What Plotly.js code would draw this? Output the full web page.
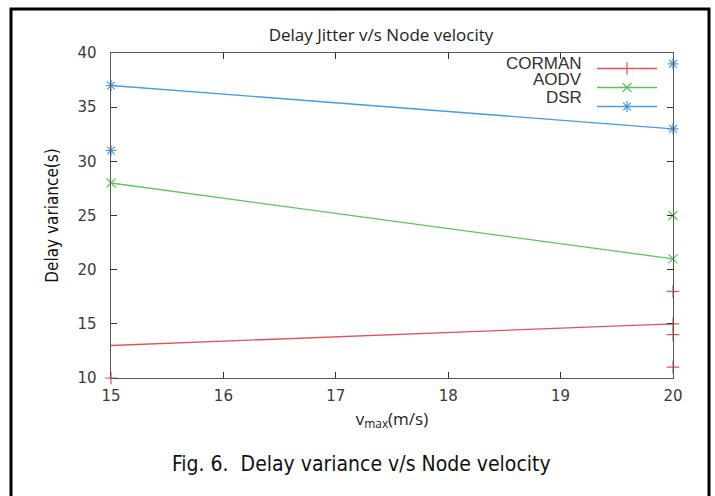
<!DOCTYPE html>
<html>
<head>
<meta charset="utf-8">
<script src="https://cdn.plot.ly/plotly-3.0.1.min.js"></script>
<style>html,body{margin:0;padding:0;background:#fff;}#chart{width:715px;height:496px;}</style>
</head>
<body>
<div id="chart"></div>
<script>
// ---- data ----
const seriesNames = ['CORMAN', 'AODV', 'DSR'];
const lineX = [15, 20];
const cormanLine = [13, 15];
const aodvLine = [28, 21];
const dsrLine = [37, 33];
const cormanExtraX = [15, 20, 20, 20];
const cormanExtraY = [10, 18, 14, 11];
const aodvExtraX = [20];
const aodvExtraY = [25];
const dsrExtraX = [15, 20];
const dsrExtraY = [31, 39];
const xTicks = [15, 16, 17, 18, 19, 20];
const yTicks = [10, 15, 20, 25, 30, 35, 40];

const RED = '#e0545c', GREEN = '#5cc45c', BLUE = '#4a9ae0';
const lw = 1.3;

function lineTrace(name, xs, ys, color, symbol, colorArr) {
  return {
    type: 'scatter', mode: 'lines+markers', name: '', legendgroup: name,
    x: xs, y: ys, cliponaxis: false,
    line: {color: color, width: lw},
    marker: {symbol: symbol, size: 9, color: colorArr || color, line: {width: 1.2, color: color}}
  };
}
function extraTrace(name, xs, ys, color, symbol) {
  return {
    type: 'scatter', mode: 'markers', name: name, showlegend: false, legendgroup: name,
    x: xs, y: ys, cliponaxis: false,
    marker: {symbol: symbol, size: 9, color: color, line: {width: 1.2, color: color}}
  };
}

// CORMAN line drawn from its right end so only that end carries a marker
const cormanX = lineX.slice().reverse();
const cormanY = cormanLine.slice().reverse();

const data = [
  lineTrace(seriesNames[0], cormanX, cormanY, RED, 'cross-thin-open', [RED, 'rgba(0,0,0,0)']),
  lineTrace(seriesNames[1], lineX, aodvLine, GREEN, 'x-thin-open'),
  lineTrace(seriesNames[2], lineX, dsrLine, BLUE, 'asterisk-open'),
  extraTrace(seriesNames[0], cormanExtraX, cormanExtraY, RED, 'cross-thin-open'),
  extraTrace(seriesNames[1], aodvExtraX, aodvExtraY, GREEN, 'x-thin-open'),
  extraTrace(seriesNames[2], dsrExtraX, dsrExtraY, BLUE, 'asterisk-open')
];

const tickFont = {family: 'DejaVu Sans, sans-serif', size: 15, color: '#3a3a3a'};
const axisCommon = {
  showgrid: false, zeroline: false, showline: true, linecolor: '#555', linewidth: 1.4,
  mirror: 'allticks', ticks: 'inside', ticklen: 6, tickwidth: 1.2, tickcolor: '#333',
  tickfont: tickFont, fixedrange: true, layer: 'above traces'
};

const legendY = [63, 80, 97];
const annotations = seriesNames.map((n, i) => ({
  xref: 'paper', yref: 'paper', x: (584 - 111) / 562, y: (378 - legendY[i]) / 325,
  xanchor: 'right', yanchor: 'middle', showarrow: false, text: n,
  font: {family: 'Liberation Sans, Arial, sans-serif', size: 17, color: '#333'}
}));
annotations.push({
  xref: 'paper', yref: 'paper', x: (361 - 111) / 562, y: (378 - 464) / 325,
  xanchor: 'center', yanchor: 'middle', showarrow: false,
  text: 'Fig. 6.  Delay variance v/s Node velocity',
  font: {family: 'Liberation Sans Narrow, DejaVu Sans Condensed, Arial Narrow, sans-serif', size: 21, color: '#111'}
});

const layout = {
  width: 715, height: 496,
  margin: {l: 111, r: 42, t: 53, b: 118},
  paper_bgcolor: '#fff', plot_bgcolor: '#fff',
  showlegend: true,
  title: {text: 'Delay Jitter v/s Node velocity', x: 381 / 715, xanchor: 'center', y: 1 - 35 / 496, yanchor: 'middle',
          font: {family: 'Open Sans, sans-serif', size: 17, color: '#222'}},
  xaxis: Object.assign({}, axisCommon, {
    range: [15, 20], tickvals: xTicks, ticktext: xTicks.map(String), ticklabelstandoff: 4,
    title: {text: 'v<sub>max</sub>(m/s)', standoff: 8, font: {family: 'Open Sans, sans-serif', size: 17, color: '#222'}}
  }),
  yaxis: Object.assign({}, axisCommon, {
    range: [10, 40], tickvals: yTicks, ticktext: yTicks.map(String), ticklabelstandoff: 10,
    title: {text: 'Delay variance(s)', standoff: 14, font: {family: 'Liberation Sans Narrow, DejaVu Sans Condensed, sans-serif', size: 17, color: '#111'}}
  }),
  legend: {x: (592 - 111) / 562, xanchor: 'left', y: (378 - 54) / 325, yanchor: 'top',
           bgcolor: 'rgba(0,0,0,0)', borderwidth: 0, font: {size: 11}, itemwidth: 60, tracegroupgap: 0},
  annotations: annotations,
  shapes: [{type: 'rect', xref: 'paper', yref: 'paper',
            x0: (11 - 111) / 562, x1: (709 - 111) / 562, y0: (378 - 505) / 325, y1: (378 - 9) / 325,
            line: {color: '#000', width: 3}, fillcolor: 'rgba(0,0,0,0)', layer: 'below'}]
};

Plotly.newPlot('chart', data, layout, {displayModeBar: false, staticPlot: true});
</script>
</body>
</html>
